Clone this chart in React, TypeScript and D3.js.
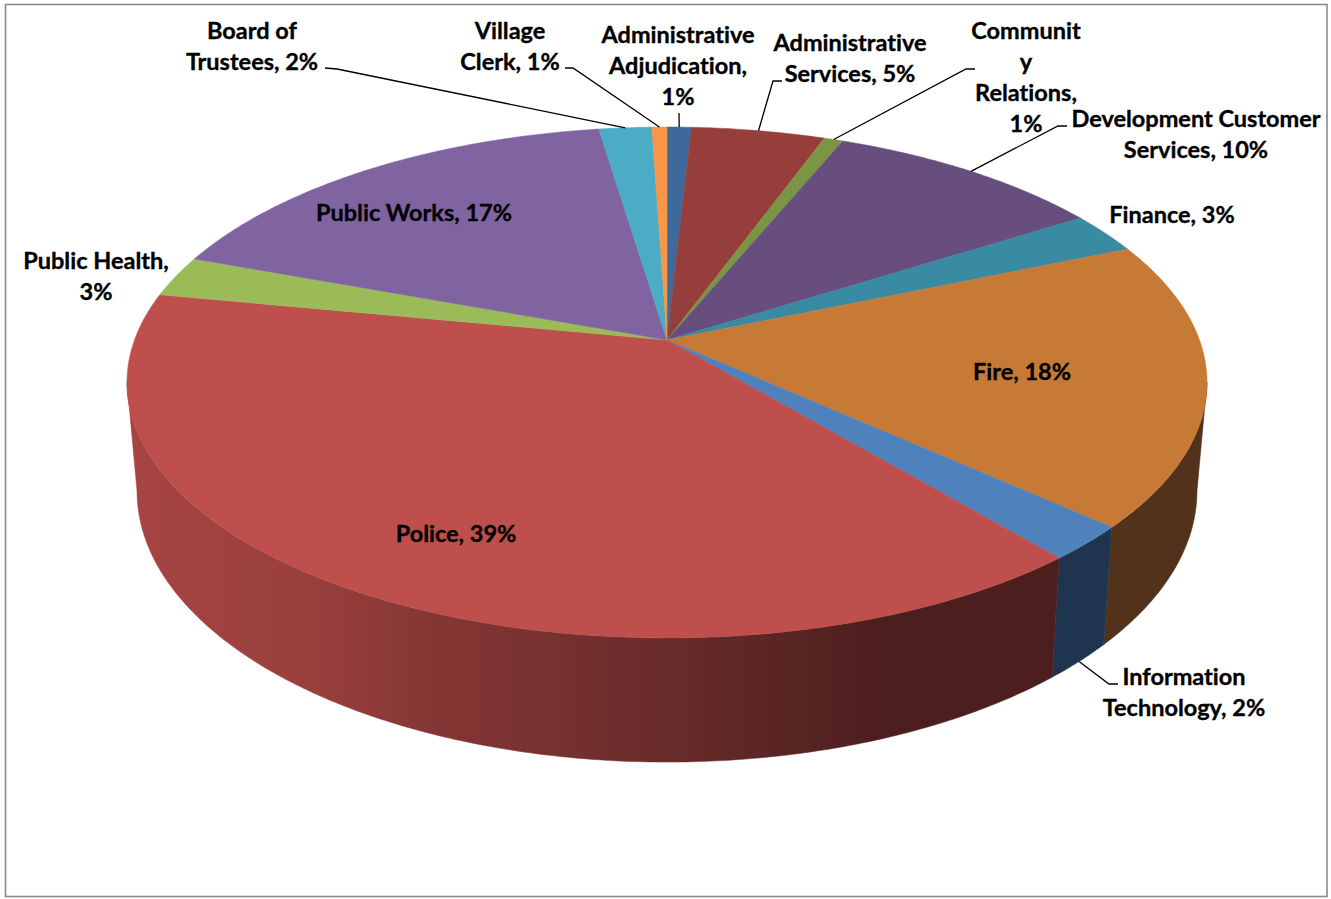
import * as d3 from "d3";
import React from "react";

const widthOfSvg = 1331;
const heightOfSvg = 899;

// share of budget
const departments = [
  "Administrative Adjudication",
  "Administrative Services",
  "Community Relations",
  "Development Customer Services",
  "Finance",
  "Fire",
  "Information Technology",
  "Police",
  "Public Health",
  "Public Works",
  "Board of Trustees",
  "Village Clerk",
];
const shares = [0.85, 4.7, 0.67, 9.8, 2.6, 18.05, 2.2, 39.1, 2.6, 17.0, 1.85, 0.53];
const topColors = ["#3d699c", "#963e3b", "#7a9644", "#674e7f", "#398aa3", "#c77a36", "#4f81bd", "#be4f4c", "#9bbb59", "#8064a2", "#4bacc6", "#f79646"];
const sideColors = ["#1e344f", "#4c1f1e", "#3e4f22", "#33263f", "#1c4551", "#52321a", "#1e344f", "url(#policeSide)", "#4e5e2c", "#403251", "#255662", "#7b4a23"];

// wrapped label text, drawn at [centre x, centre y of first line]
const labelLines = [
  ["Administrative", "Adjudication,", "1%"],
  ["Administrative", "Services, 5%"],
  ["Communit", "y", "Relations,", "1%"],
  ["Development Customer", "Services, 10%"],
  ["Finance, 3%"],
  ["Fire, 18%"],
  ["Information", "Technology, 2%"],
  ["Police, 39%"],
  ["Public Health,", "3%"],
  ["Public Works, 17%"],
  ["Board of", "Trustees, 2%"],
  ["Village", "Clerk, 1%"],
];
const labelPlaces = [
  [678, 34], [850, 42], [1026, 30], [1196, 118], [1172, 214], [1022, 371],
  [1184, 676], [456, 533], [96, 260], [414, 212], [252, 30], [510, 30],
];

// leader lines: label side points, the last point comes from the pie rim
const leaders = [
  { slice: 0, points: [[679, 113]] },
  { slice: 1, points: [[782, 81], [773, 81]] },
  { slice: 2, points: [[975, 69], [966, 69]] },
  { slice: 3, points: [[1067, 126], [1058, 126]] },
  { slice: 6, points: [[1118, 684], [1109, 684]], lower: true },
  { slice: 10, points: [[325, 68], [337, 69]] },
  { slice: 11, points: [[565, 68], [573, 68]] },
];

// pie is tilted, so the hub is not in the middle of the ellipse: perspective projection
const centerX = 667;
const tilt = 0.1663;
const topDisc = { radiusX: 532.5, radiusY: 248.4, hubY: 340 };
const bottomDisc = { radiusX: 522.6, radiusY: 263.5, hubY: 446 };

function project(disc: typeof topDisc, angle: number) {
  const u = Math.sin(angle);
  const v = -Math.cos(angle);
  const w = 1 - tilt * v;
  return [centerX + (disc.radiusX * u) / w, disc.hubY + (disc.radiusY * v) / w];
}
const projectTop = (angle: number) => project(topDisc, angle);
const projectBottom = (angle: number) => project(bottomDisc, angle);

function sampleAngles(from: number, to: number) {
  const count = Math.max(2, Math.ceil((to - from) / 0.01));
  return d3.range(count + 1).map((i) => from + ((to - from) * i) / count);
}

const pathLine = d3.line();
const frontStart = Math.acos(-tilt);
const frontEnd = 2 * Math.PI - frontStart;

function App() {
  const pieSlices = d3.pie<number>().sort(null)(shares);

  const policeStops = [
    [130, "#a64442"],
    [300, "#9a403d"],
    [420, "#873735"],
    [700, "#642a29"],
    [880, "#4d1e1e"],
    [1060, "#4d1e1e"],
  ];

  return (
    <svg
      width={widthOfSvg}
      height={heightOfSvg}
      style={{ position: "absolute", left: 0, top: 0, background: "#fff", fontVariantLigatures: "none" }}
      fontFamily="Lato, sans-serif"
      fontWeight={700}
      fontSize={23.5}
    >
      <defs>
        <linearGradient id="policeSide" gradientUnits="userSpaceOnUse" x1={130} x2={1060} y1={0} y2={0}>
          {policeStops.map(([x, color]) => (
            <stop key={x} offset={((x as number) - 130) / 930} stopColor={color as string} />
          ))}
        </linearGradient>
      </defs>
      <rect x={5.5} y={4.5} width={1321.5} height={892} fill="#fff" stroke="#8a8a8a" strokeWidth={1.6} />

      {pieSlices.map((slice, i) => {
        const from = Math.max(slice.startAngle, frontStart);
        const to = Math.min(slice.endAngle, frontEnd);
        if (to <= from) return null;
        const angles = sampleAngles(from, to);
        const wall = [...angles.map(projectTop), ...angles.slice().reverse().map(projectBottom)];
        return <path key={i} d={pathLine(wall as [number, number][]) + "Z"} fill={sideColors[i]} stroke={sideColors[i]} strokeWidth={0.5} />;
      })}

      {pieSlices.map((slice, i) => {
        const rim = sampleAngles(slice.startAngle, slice.endAngle).map(projectTop);
        const outline = [[centerX, topDisc.hubY], ...rim];
        return <path key={i} d={pathLine(outline as [number, number][]) + "Z"} fill={topColors[i]} stroke={topColors[i]} strokeWidth={0.5} />;
      })}

      {leaders.map((leader) => {
        const slice = pieSlices[leader.slice];
        const middle = (slice.startAngle + slice.endAngle) / 2;
        const rimPoint = leader.lower ? projectBottom(middle) : projectTop(middle);
        return (
          <path
            key={leader.slice}
            d={pathLine([...leader.points, rimPoint] as [number, number][]) as string}
            fill="none"
            stroke="#000"
            strokeWidth={1.3}
          />
        );
      })}

      {departments.map((name, i) => (
        <text key={name} x={labelPlaces[i][0]} y={labelPlaces[i][1]} textAnchor="middle" fill="#000" stroke="#000" strokeWidth={0.35}>
          {labelLines[i].map((lineText, j) => (
            <tspan key={j} x={labelPlaces[i][0]} y={labelPlaces[i][1] - 0.5 + j * 31} dominantBaseline="central">
              {lineText}
            </tspan>
          ))}
        </text>
      ))}
    </svg>
  );
}

export default App;
